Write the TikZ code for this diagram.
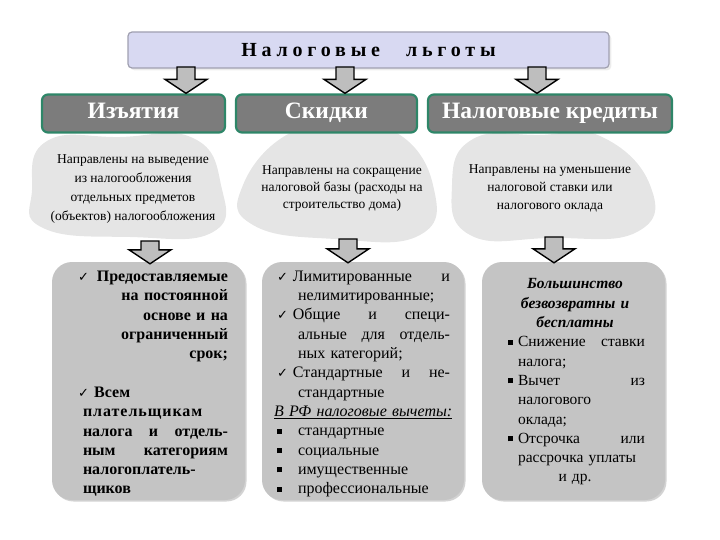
\documentclass[tikz,border=0pt]{standalone}
\usepackage{fontspec}
\setmainfont{Liberation Serif}
\newfontfamily\symfont{DejaVu Sans}
\newfontfamily\spacedfont[LetterSpace=24]{Liberation Serif}
\newfontfamily\widefont[LetterSpace=6]{Liberation Serif}
\usepackage{tikz}
\usetikzlibrary{positioning,calc,shadows}

\definecolor{titlefill}{RGB}{216,217,242}
\definecolor{titleline}{RGB}{160,160,176}
\definecolor{kindfill}{RGB}{124,124,124}
\definecolor{kindline}{RGB}{46,134,104}
\definecolor{blobfill}{RGB}{229,229,229}
\definecolor{boxfill}{RGB}{196,196,196}
\definecolor{arrowfill}{RGB}{190,190,190}

\newcommand{\chk}{{\symfont\mdseries\fontsize{13}{13}\selectfont ✓}}
\newcommand{\sq}{\rule[2pt]{5pt}{5pt}}

\begin{document}
\begin{tikzpicture}[x=1pt, y=-1pt,
  title_style/.style={draw=titleline, fill=titlefill, line width=1.2pt, rounded corners=4pt,
    minimum width=481pt, minimum height=36pt, drop shadow={opacity=0.15}},
  kind_style/.style={draw=kindline, fill=kindfill, line width=2.2pt, rounded corners=6pt,
    minimum height=38pt, text height=16pt, text depth=5pt, text=white,
    font=\bfseries\fontsize{23.5}{26}\selectfont},
  blob_text/.style={align=center, font=\fontsize{13.5}{19}\selectfont},
  list_box/.style={fill=boxfill, rounded corners=20pt, minimum height=238pt,
    drop shadow={opacity=0.35, shadow xshift=1.5pt, shadow yshift=-1.5pt}},
  list_text/.style={align=left, font=\fontsize{16}{19.3}\selectfont},
  fat_arrow/.style={draw=black, line width=1.4pt, fill=arrowfill,
    to path={let \p1=(\tikztostart), \p2=(\tikztotarget) in
      (\x1-9pt,\y1) -- (\x1+9pt,\y1) -- (\x1+9pt,\y2+14pt) -- (\x1+21pt,\y2+14pt)
      -- (\x1,\y2) -- (\x1-21pt,\y2+14pt) -- (\x1-9pt,\y2+14pt) -- cycle}}]

  \useasboundingbox (0,0) rectangle (720,540);

  % top
  \node[title_style] (lg) at (368.5,50) {\spacedfont\bfseries\fontsize{20}{22}\selectfont Налоговые\hspace{26pt}льготы};

  % blobs
  \fill[blobfill] plot[smooth cycle, tension=0.8] coordinates
    {(47,141) (120,137) (193,138) (221,185) (213,232) (130,237) (43,228) (32,190)};
  \fill[blobfill] plot[smooth cycle, tension=0.8] coordinates
    {(290,133) (345,131) (397,133) (433,185) (420,235) (335,239) (253,225) (243,185)};
  \fill[blobfill] plot[smooth cycle, tension=0.8] coordinates
    {(473,139) (540,135) (600,136) (650,185) (637,232) (550,238) (470,235) (452,185)};

  \node[blob_text] (izm_txt) at (133,189) {Направлены на выведение\\из налогообложения\\отдельных предметов\\(объектов) налогообложения};
  \node[blob_text, font=\fontsize{13.5}{17}\selectfont] (skd_txt) at (342,189) {Направлены на сокращение\\налоговой базы (расходы на\\строительство дома)};
  \node[blob_text, font=\fontsize{13.5}{18}\selectfont] (krd_txt) at (550,188) {Направлены на уменьшение\\налоговой ставки или\\налогового оклада};

  % bottom boxes
  \node[list_box, minimum width=193pt] (izm_box) at (148.5,381) {};
  \node[list_box, minimum width=202pt] (skd_box) at (363,381) {};
  \node[list_box, minimum width=183pt] (krd_box) at (573.5,381) {};

  \node[list_text, text width=150pt, font=\bfseries\fontsize{16}{19.3}\selectfont] (izm_list) at (153,384) {%
    \chk\hfill Предоставляемые\\
    \hfill на постоянной\\
    \hfill основе и на\\
    \hfill ограниченный\\
    \hfill срок;\\[19.3pt]
    \chk\ Всем\\
    \hspace*{5pt}{\widefont плательщикам}\\
    \hspace*{5pt}налога\hfill и\hfill отдель-\\
    \hspace*{5pt}ным\hfill категориям\\
    \hspace*{5pt}налогоплатель-\\
    \hspace*{5pt}щиков};
  \node[list_text, text width=176pt] (skd_list) at (362,384) {%
    \hspace*{3pt}\chk\hspace{5pt}Лимитированные\hfill и\\
    \hspace*{24pt}нелимитированные;\\
    \hspace*{3pt}\chk\hspace{5pt}Общие\hfill и\hfill специ-\\
    \hspace*{24pt}альные\hfill для\hfill отдель-\\
    \hspace*{24pt}ных категорий;\\
    \hspace*{3pt}\chk\hspace{5pt}Стандартные\hfill и\hfill не-\\
    \hspace*{24pt}стандартные\\
    \underline{\textit{В РФ налоговые вычеты:}}\\
    \hspace*{3pt}\sq\hspace{16pt}стандартные\\
    \hspace*{3pt}\sq\hspace{16pt}социальные\\
    \hspace*{3pt}\sq\hspace{16pt}имущественные\\
    \hspace*{3pt}\sq\hspace{16pt}профессиональные};
  \node[list_text, text width=140pt, font=\fontsize{15.5}{19.3}\selectfont] (krd_list) at (575,382) {%
    \hfill\textbf{\textit{Большинство}}\hfill\hbox{}\\
    \hfill\textbf{\textit{безвозвратны и}}\hfill\hbox{}\\
    \hfill\textbf{\textit{бесплатны}}\hfill\hbox{}\\
    \hspace*{3pt}\sq\hspace{5pt}Снижение\hfill ставки\\
    \hspace*{13pt}налога;\\
    \hspace*{3pt}\sq\hspace{5pt}Вычет\hfill из\\
    \hspace*{13pt}налогового\\
    \hspace*{13pt}оклада;\\
    \hspace*{3pt}\sq\hspace{5pt}Отсрочка\hfill или\\
    \hspace*{13pt}рассрочка уплаты\\
    \hfill и др.\hfill\hbox{}};

  % category boxes
  \node[kind_style, minimum width=183pt] (izm) at (133.5,113.5) {Изъятия};
  \node[kind_style, minimum width=181pt] (skd) at (326.5,113.5) {Скидки};
  \node[kind_style, minimum width=244pt] (krd) at (550,113.5) {Налоговые кредиты};

  % arrows
  \coordinate (a1) at (186,67);
  \coordinate (a2) at (345,67);
  \coordinate (a3) at (537,67);
  \coordinate (b1) at (150,241);
  \coordinate (b2) at (348,239);
  \coordinate (b3) at (554,237);
  \draw[fat_arrow] (a1) to (a1 |- izm.north);
  \draw[fat_arrow] (a2) to (a2 |- skd.north);
  \draw[fat_arrow] (a3) to (a3 |- krd.north);
  \draw[fat_arrow] (b1) to ($(b1 |- izm_box.north)+(0,2)$);
  \draw[fat_arrow] (b2) to ($(b2 |- skd_box.north)+(0,1)$);
  \draw[fat_arrow] (b3) to ($(b3 |- krd_box.north)+(0,1)$);
\end{tikzpicture}
\end{document}
